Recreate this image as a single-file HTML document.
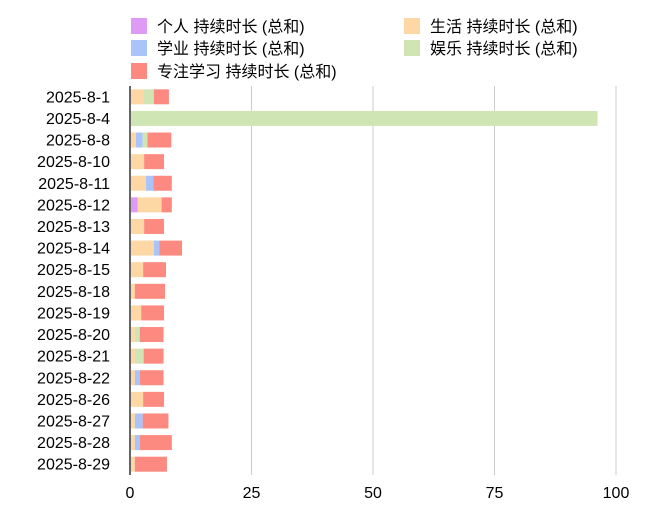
<!DOCTYPE html>
<html><head><meta charset="utf-8"><style>
body{margin:0;background:#fff;font-family:"Liberation Sans","Noto Sans CJK SC",sans-serif}
</style></head><body>
<svg id="c" width="650" height="526" xmlns="http://www.w3.org/2000/svg"></svg>
<script>
const categories=["2025-8-1","2025-8-4","2025-8-8","2025-8-10","2025-8-11","2025-8-12","2025-8-13","2025-8-14","2025-8-15","2025-8-18","2025-8-19","2025-8-20","2025-8-21","2025-8-22","2025-8-26","2025-8-27","2025-8-28","2025-8-29"];
const personal=[0,0,0,0,0,1.4,0,0,0,0,0,0,0,0,0,0,0,0];
const life=[2.5,0,1.0,2.7,3.1,4.9,2.7,4.7,2.5,0.8,2.1,0.8,0.8,0.8,2.5,0.8,0.8,0.8];
const study=[0,0,1.4,0,1.5,0,0,1.1,0,0,0,0,0,1.0,0,1.6,1.0,0];
const fun=[2.2,96,1.0,0,0,0,0,0,0,0,0,1.0,1.8,0,0,0,0,0];
const focus=[3.1,0,4.9,4.1,3.8,2.1,4.1,4.7,4.7,6.2,4.7,4.9,4.1,4.9,4.3,5.3,6.6,6.6];
const ticks=[0,25,50,75,100];
const seriesNames=["个人 持续时长 (总和)","生活 持续时长 (总和)","学业 持续时长 (总和)","娱乐 持续时长 (总和)","专注学习 持续时长 (总和)"];
const series=[personal,life,study,fun,focus];
const colors=["#df9af5","#fed8a4","#a8c4fb","#cfe6b4","#fd8a80"];
const keys=["personal","life","study","fun","focus"];
const NS="http://www.w3.org/2000/svg",svg=document.getElementById('c');
const x0=130,x1=616,yTop=86,yBot=475;
const xs=v=>x0+v/100*(x1-x0);
const step=(yBot-yTop)/categories.length;
const yc=i=>yTop+step*(i+0.5);
function mk(t,a,txt){const e=document.createElementNS(NS,t);for(const k in a)e.setAttribute(k,a[k]);if(txt!=null)e.textContent=txt;svg.appendChild(e);return e;}
ticks.forEach(t=>{
 if(t>0){const g=mk('line',{x1:xs(t),x2:xs(t),y1:yTop,y2:yBot,stroke:'#cccccc','stroke-width':1});
 
 }
 const l=mk('text',{x:xs(t),y:498,'text-anchor':'middle','font-size':16,fill:'#000'},String(t));
 
 
});
categories.forEach((c,i)=>{
 let acc=0;
 series.forEach((s,j)=>{const v=s[i];if(v>0){const r=mk('rect',{x:xs(acc)+1,y:yc(i)-7.5,width:xs(acc+v)-xs(acc),height:15,fill:colors[j]});
 
 }acc+=v;});
 const l=mk('text',{x:110,y:yc(i)+5.5,'text-anchor':'end','font-size':16,fill:'#000'},c);
 
 
});
const ax=mk('line',{x1:x0,x2:x0,y1:yTop,y2:yBot,stroke:'#333','stroke-width':1.5});


const lp=[[131,26],[131,48],[404,26],[404,48],[131,71]];
const order=[0,2,1,3,4];
order.forEach((j,k)=>{const [x,y]=lp[k];
 const r=mk('rect',{x:x,y:y-8,width:16,height:16,fill:colors[j]});
 
 
 const t=mk('text',{x:x+26,y:y+6,'font-size':16,fill:'#000'},seriesNames[j]);
 
 
});
</script>
</body></html>
